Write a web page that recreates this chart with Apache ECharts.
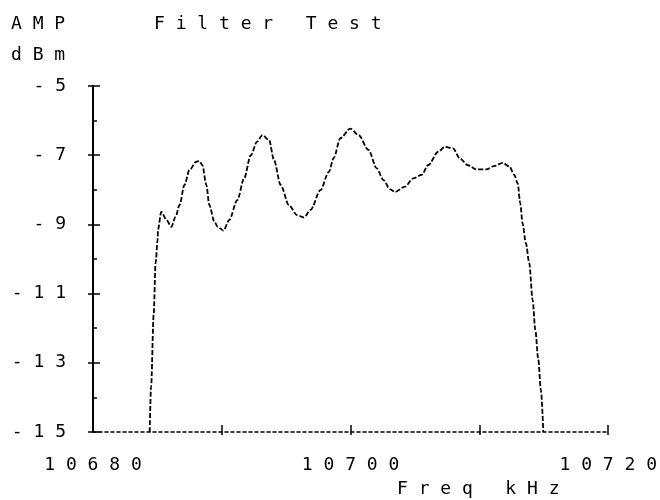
<!DOCTYPE html>
<html>
<head>
<meta charset="utf-8">
<script src="https://cdn.jsdelivr.net/npm/echarts@6/dist/echarts.min.js"></script>
<style>
  html, body { margin: 0; padding: 0; background: #fff; }
  #chart { width: 660px; height: 500px; }
</style>
</head>
<body>
<div id="chart"></div>
<script>
// Filter passband sweep: frequency (kHz) vs amplitude (dBm)
const freqKHz = [10684.40,10684.51,10684.71,10684.86,10685.02,10685.04,10685.30,10685.71,10686.08,10686.41,
  10686.72,10687.10,10687.49,10688.01,10688.26,10688.49,10688.80,10689.03,10689.42,10689.68,
  10690.12,10690.58,10691.20,10691.74,10692.25,10692.74,10693.15,10693.67,10694.05,10694.57,
  10695.21,10695.83,10696.37,10696.89,10697.66,10698.30,10698.69,10699.20,10699.98,10700.62,
  10701.39,10702.03,10702.55,10703.07,10703.46,10704.22,10704.86,10705.51,10706.02,10706.80,
  10707.31,10707.95,10708.47,10709.11,10709.75,10710.53,10711.17,10711.81,10712.33,10712.71,
  10712.97,10713.17,10713.35,10713.61,10713.87,10714.13,10714.34,10714.57,10714.77,10714.96];
const ampDbm = [-15.0,-13.69,-11.61,-10.11,-9.45,-9.16,-8.64,-8.87,-9.07,-8.78,
  -8.44,-7.86,-7.43,-7.19,-7.17,-7.29,-7.86,-8.44,-8.92,-9.07,
  -9.18,-8.87,-8.30,-7.66,-7.00,-6.61,-6.42,-6.56,-7.14,-7.86,
  -8.44,-8.73,-8.80,-8.58,-8.01,-7.49,-7.08,-6.51,-6.23,-6.42,
  -6.85,-7.38,-7.72,-7.99,-8.06,-7.91,-7.67,-7.57,-7.29,-6.90,
  -6.76,-6.80,-7.09,-7.29,-7.41,-7.41,-7.31,-7.22,-7.33,-7.57,
  -7.81,-8.39,-8.97,-9.55,-10.12,-11.18,-12.05,-12.91,-13.78,-15.0];

// Axis ticks and labels
const yLabelValues = [-15, -13, -11, -9, -7, -5];
const yMinorTicks = [-14, -12, -10, -8, -6];
const xLabelValues = [10680, 10700, 10720];
const xTickValues = [10690, 10700, 10710, 10720];

// Plotter-style spaced lettering
const spaced = s => String(s).split('').join(' ');

const FONT = 'DejaVu Sans Mono';
const txt = { fontFamily: FONT, fontSize: 18, fontWeight: 'normal', color: '#000' };

const chart = echarts.init(document.getElementById('chart'), null, { renderer: 'canvas' });

const yBase = {
  type: 'value', min: -15, max: -5, position: 'left', offset: 0,
  splitLine: { show: false }
};
const xBase = {
  type: 'value', min: 10680, max: 10720, position: 'bottom', offset: 0,
  splitLine: { show: false }
};

chart.setOption({
  animation: false,
  backgroundColor: '#fff',
  title: [
    { text: spaced('AMP'), left: 6, top: 10, padding: 5, textStyle: txt },
    { text: spaced('dBm'), left: 6, top: 41, padding: 5, textStyle: txt },
    { text: 'F i l t e r   T e s t', left: 149, top: 10, padding: 5, textStyle: txt },
    { text: 'F r e q   k H z', left: 392, top: 475, padding: 5, textStyle: txt }
  ],
  grid: { left: 93, right: 49, top: 86, bottom: 68, containLabel: false },
  xAxis: [
    Object.assign({}, xBase, {
      axisLine: { show: true, lineStyle: { color: '#000', width: 1.5, type: [3, 3] } },
      axisTick: { show: true, inside: true, length: 7, customValues: xTickValues,
                  lineStyle: { color: '#000', width: 1.5 } },
      axisLabel: { show: true, customValues: xLabelValues, margin: 24,
                   formatter: v => spaced(v), ...txt }
    }),
    Object.assign({}, xBase, {
      axisLine: { show: false },
      axisTick: { show: true, inside: false, length: 3, customValues: xTickValues,
                  lineStyle: { color: '#000', width: 1.5 } },
      axisLabel: { show: false }
    })
  ],
  yAxis: [
    Object.assign({}, yBase, {
      axisLine: { show: true, lineStyle: { color: '#000', width: 2 } },
      axisTick: { show: true, inside: false, length: 5, customValues: yLabelValues,
                  lineStyle: { color: '#000', width: 1.5 } },
      axisLabel: { show: true, customValues: yLabelValues, margin: 27,
                   formatter: v => spaced(v), ...txt }
    }),
    Object.assign({}, yBase, {
      axisLine: { show: false },
      axisTick: { show: true, inside: true, length: 7, customValues: yLabelValues,
                  lineStyle: { color: '#000', width: 1.5 } },
      axisLabel: { show: false }
    }),
    Object.assign({}, yBase, {
      axisLine: { show: false },
      axisTick: { show: true, inside: true, length: 4, customValues: yMinorTicks,
                  lineStyle: { color: '#000', width: 1.5 } },
      axisLabel: { show: false }
    })
  ],
  series: [{
    type: 'line',
    xAxisIndex: 0,
    yAxisIndex: 0,
    data: freqKHz.map((f, i) => [f, ampDbm[i]]),
    showSymbol: false,
    smooth: 0.3,
    smoothMonotone: 'x',
    lineStyle: { color: '#000', width: 1.8, type: [5, 2] }
  }]
});
</script>
</body>
</html>
